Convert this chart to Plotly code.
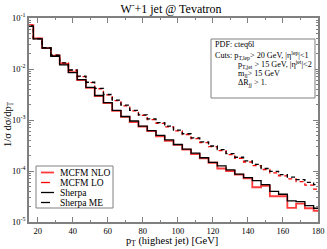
import plotly.graph_objects as go

pt = [15, 20, 25, 30, 35, 40, 45, 50, 55, 60, 65, 70, 75, 80, 85, 90, 95, 100,
      105, 110, 115, 120, 125, 130, 135, 140, 145, 150, 155, 160, 165, 170, 175, 180]

mcfm_nlo = [0.0724, 0.0398, 0.0257, 0.0182, 0.0126, 0.0087, 0.00603, 0.00427, 0.00295,
            0.00214, 0.00151, 0.00115, 0.000912, 0.000741, 0.000603, 0.000479, 0.000389,
            0.000324, 0.000263, 0.000214, 0.000178, 0.000145, 0.000112, 0.0001, 8.5e-5,
            7.2e-5, 4.8e-5, 5.1e-5, 3.2e-5, 3.2e-5, 1.9e-5, 2.3e-5, 1.86e-5, 1.66e-5]

mcfm_lo = [0.0724, 0.0398, 0.0263, 0.0186, 0.0132, 0.0095, 0.0071, 0.0054, 0.0041, 0.0031,
           0.0024, 0.0019, 0.00151, 0.00123, 0.00102, 0.00086, 0.00073, 0.00061, 0.00052,
           0.00043, 0.00036, 0.0003, 0.000252, 0.00021, 0.000178, 0.00015, 0.000128,
           0.000107, 9.2e-5, 8.0e-5, 7.0e-5, 6.2e-5, 5.3e-5, 4.4e-5]

sherpa = [0.0692, 0.0389, 0.0257, 0.0178, 0.0120, 0.00851, 0.00617, 0.00437, 0.00302,
          0.00219, 0.00155, 0.00117, 0.000955, 0.000759, 0.000617, 0.000501, 0.000407,
          0.000331, 0.000269, 0.000224, 0.000182, 0.000148, 0.000126, 0.000105, 8.7e-5,
          7.4e-5, 6.5e-5, 5.4e-5, 4.0e-5, 3.5e-5, 2.6e-5, 2.5e-5, 2.1e-5, 1.86e-5]

sherpa_me = [0.0692, 0.0389, 0.0263, 0.0186, 0.0132, 0.00955, 0.00724, 0.0055, 0.00417,
             0.00316, 0.00245, 0.00195, 0.00155, 0.00126, 0.00105, 0.00089, 0.000759,
             0.000631, 0.000537, 0.000447, 0.000372, 0.000309, 0.000263, 0.000219,
             0.000186, 0.000158, 0.000135, 0.000112, 9.8e-5, 8.5e-5, 7.6e-5, 6.8e-5,
             6.0e-5, 5.4e-5]

series_names = ["MCFM NLO", "MCFM LO", "Sherpa", "Sherpa ME"]
x_ticks = [20, 40, 60, 80, 100, 120, 140, 160, 180]
y_ticks = [1e-5, 1e-4, 1e-3, 1e-2, 1e-1]
y_ticktext = ["10<sup>-5</sup>", "10<sup>-4</sup>", "10<sup>-3</sup>", "10<sup>-2</sup>", "10<sup>-1</sup>"]
box_lines = ["PDF: cteq6l",
             "Cuts: p<sub>T,lep</sub>&gt; 20 GeV, |η<sup>lep</sup>|&lt;1",
             "p<sub>T,jet</sub> &gt; 15 GeV, |η<sup>jet</sup>|&lt;2",
             "m<sub>ll</sub>&gt; 15 GeV",
             "ΔR<sub>jj</sub> &gt; 1."]

FONT = "Liberation Serif"
AX = "#808080"
W, H = 327, 249
L, R, T, B = 29, 318, 18, 222

styles = [dict(color="#ff3b3b", width=1.8, dash="solid"),
          dict(color="#ff0000", width=1.3, dash="4px,3px"),
          dict(color="#000000", width=1.3, dash="solid"),
          dict(color="#000000", width=1.3, dash="4px,3px")]
data = [mcfm_nlo, mcfm_lo, sherpa, sherpa_me]


def px(x):
    return (x - L) / (R - L)


def py(y):
    return (B - y) / (B - T)


fig = go.Figure()
for name, ys, st in zip(series_names, data, styles):
    fig.add_trace(go.Scatter(x=pt, y=ys, name=name, mode="lines",
                             line=dict(color=st["color"], width=st["width"],
                                       dash=st["dash"], shape="hvh")))

minor_y = []
for e in range(-5, -1):
    for m in range(2, 10):
        minor_y.append(m * 10.0 ** e)

fig.update_xaxes(range=[15, 180], tickvals=x_ticks, ticks="inside", ticklen=5,
                 tickcolor=AX, tickwidth=1, showline=True, linecolor=AX, linewidth=1.5,
                 mirror="ticks", showgrid=False, zeroline=False, automargin=False,
                 tickfont=dict(family=FONT, size=8.5, color="#000"),
                 minor=dict(tickvals=list(range(30, 180, 20)), ticks="inside", ticklen=2.5,
                            tickcolor=AX, showgrid=False))
fig.update_yaxes(type="log", range=[-5, -1], tickvals=y_ticks, ticktext=y_ticktext,
                 ticks="inside", ticklen=5, tickcolor=AX, tickwidth=1, showline=True,
                 linecolor=AX, linewidth=1.5, mirror="ticks", showgrid=False, zeroline=False,
                 automargin=False, tickfont=dict(family=FONT, size=8.5, color="#000"),
                 minor=dict(tickvals=minor_y, ticks="inside", ticklen=2.5, tickcolor=AX,
                            showgrid=False))

ann = []
shapes = []
# axis titles
ann.append(dict(xref="paper", yref="paper", x=px(172), y=py(241.5), xanchor="center",
                yanchor="middle", showarrow=False, text="p<sub>T</sub> (highest jet) [GeV]",
                font=dict(family=FONT, size=10.5, color="#000")))
ann.append(dict(xref="paper", yref="paper", x=px(9), y=py(124), xanchor="center",
                yanchor="middle", showarrow=False, textangle=-90,
                text="1/σ dσ/dp<sub>T</sub>", font=dict(family=FONT, size=10.5, color="#000")))
# legend
shapes.append(dict(type="rect", xref="paper", yref="paper", x0=px(36), x1=px(113),
                   y0=py(166), y1=py(208), line=dict(color=AX, width=1), fillcolor="white",
                   layer="above"))
leg_y = [172.5, 182.5, 192.5, 202.5]
for name, st, yy in zip(series_names, styles, leg_y):
    shapes.append(dict(type="line", xref="paper", yref="paper", x0=px(41), x1=px(54),
                       y0=py(yy), y1=py(yy), layer="above",
                       line=dict(color=st["color"], width=st["width"],
                                 dash="dash" if st["dash"] != "solid" else "solid")))
    ann.append(dict(xref="paper", yref="paper", x=px(58), y=py(yy), xanchor="left",
                    yanchor="middle", showarrow=False, text=name,
                    font=dict(family=FONT, size=9.5, color="#000")))
# info box
shapes.append(dict(type="rect", xref="paper", yref="paper", x0=px(211), x1=px(315),
                   y0=py(39), y1=py(98), line=dict(color=AX, width=1), fillcolor="white",
                   layer="above"))
box_y = [45, 55, 64.5, 73.5, 82.5]
box_x = [212.5, 212.5, 236, 236, 236]
for txt, xx, yy in zip(box_lines, box_x, box_y):
    ann.append(dict(xref="paper", yref="paper", x=px(xx), y=py(yy), xanchor="left",
                    yanchor="middle", showarrow=False, text=txt,
                    font=dict(family=FONT, size=8.2, color="#000")))

fig.update_layout(
    width=W, height=H,
    margin=dict(l=L, r=W - R, t=T, b=H - B, autoexpand=False),
    paper_bgcolor="white", plot_bgcolor="white",
    title=dict(text="W<sup>-</sup>+1 jet @ Tevatron", x=171 / W, xanchor="center",
               y=1 - 8.5 / H, yanchor="middle", font=dict(family=FONT, size=12, color="#000")),
    showlegend=False,
    annotations=ann, shapes=shapes,
)

fig.write_html("out.html", config={"displayModeBar": False},
               post_script="document.body.style.margin='0';")
